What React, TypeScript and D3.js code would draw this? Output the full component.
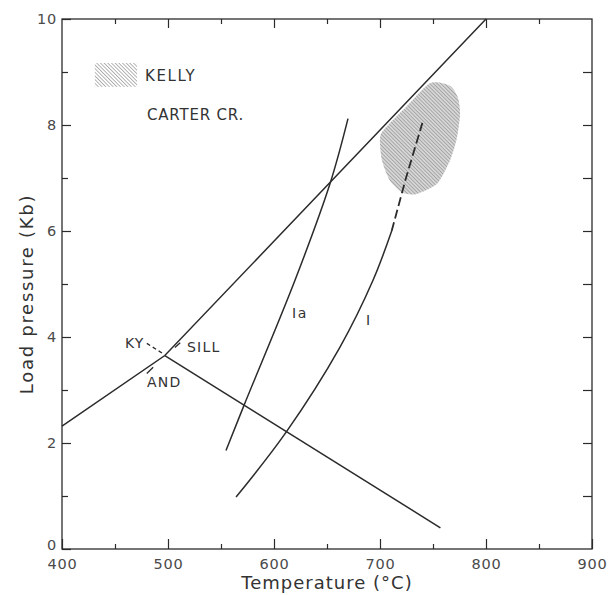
import React, { useEffect, useRef } from "react";
import * as d3 from "d3";

const WIDTH = 613;
const HEIGHT = 595;

// axis ticks
const TEMP_TICKS = [400, 500, 600, 700, 800, 900];
const TEMP_MINOR = [450, 550, 650, 750, 850];
const PRESSURE_TICKS = [0, 2, 4, 6, 8, 10];
const PRESSURE_ALL = [1, 2, 3, 4, 5, 6, 7, 8, 9];
const PRESSURE_MINOR = [1, 3, 5, 7, 9];

// Al2SiO5 boundaries (Ky-And, Ky-Sill), through the triple point
const mainT = [400, 497, 800];
const mainP = [2.32, 3.65, 10];
// And-Sill
const andSillT = [497, 757];
const andSillP = [3.65, 0.4];
// metastable Ky extension (dashed)
const kyDashT = [480, 495];
const kyDashP = [3.88, 3.69];
// little field marks
const sillMarkT = [506.5, 511.5];
const sillMarkP = [3.8, 3.89];
const andMarkT = [480, 486];
const andMarkP = [3.31, 3.43];

// curve Ia
const curveIaT = [554.7, 571.7, 619.8, 652.8, 669.8];
const curveIaP = [1.86, 2.71, 5.07, 6.89, 8.12];
// curve I (solid, then dashed)
const curveIT = [564.2, 611.3, 662, 693.4, 711];
const curveIP = [0.98, 2.2, 3.8, 5.07, 6.0];
const curveIDashT = [711, 724.5, 740];
const curveIDashP = [6.0, 7.0, 8.04];

// Kelly field
const kellyT = [747.2, 766, 773.6, 775.5, 772.6, 766, 753.8, 734.9, 721.7, 709.4, 701.9, 700, 702.8, 725];
const kellyP = [8.79, 8.74, 8.51, 8.21, 7.76, 7.33, 6.89, 6.7, 6.72, 6.95, 7.33, 7.7, 7.89, 8.35];

const zip = (ts: number[], ps: number[]) => ts.map((t, i) => ({ t, p: ps[i] }));

const App = () => {
  const ref = useRef<HTMLDivElement>(null);

  useEffect(() => {
    const root = d3.select(ref.current);
    root.selectAll("*").remove();

    const svg = root
      .append("svg")
      .attr("width", WIDTH)
      .attr("height", HEIGHT)
      .style("position", "absolute")
      .style("left", 0)
      .style("top", 0)
      .style("background", "#fff");

    const x = d3.scaleLinear().domain([400, 900]).range([62, 592]);
    const y = d3.scaleLinear().domain([0, 10]).range([549, 19]);

    const ink = "#2b2b2b";
    const font = "'DejaVu Sans', sans-serif";

    // hatch pattern
    const defs = svg.append("defs");
    const pat = defs
      .append("pattern")
      .attr("id", "hatch")
      .attr("patternUnits", "userSpaceOnUse")
      .attr("width", 2.6)
      .attr("height", 2.6)
      .attr("patternTransform", "rotate(-45)");
    pat.append("line").attr("x1", 0).attr("y1", 0).attr("x2", 0).attr("y2", 2.6)
      .attr("stroke", "#6a6a6a").attr("stroke-width", 1);

    // frame
    svg.append("rect")
      .attr("x", x(400)).attr("y", y(10))
      .attr("width", x(900) - x(400)).attr("height", y(0) - y(10))
      .attr("fill", "none").attr("stroke", ink).attr("stroke-width", 1.3);

    const styleAxis = (g: any) => {
      g.select(".domain").remove();
      g.selectAll(".tick line").attr("stroke", ink).attr("stroke-width", 1.2);
      g.selectAll(".tick text")
        .attr("fill", "#4a4a4a")
        .attr("font-family", font)
        .attr("font-size", 14.5)
        .attr("letter-spacing", 0.8);
    };

    // bottom
    svg.append("g").attr("transform", `translate(0,${y(0)})`)
      .call(d3.axisBottom(x).tickValues(TEMP_TICKS).tickSize(-10).tickPadding(10).tickFormat(d3.format("d")))
      .call(styleAxis);
    svg.append("g").attr("transform", `translate(0,${y(0)})`)
      .call(d3.axisBottom(x).tickValues(TEMP_MINOR).tickSize(-5).tickFormat(() => ""))
      .call(styleAxis);
    // top
    svg.append("g").attr("transform", `translate(0,${y(10)})`)
      .call(d3.axisTop(x).tickValues(TEMP_TICKS.slice(1, -1)).tickSize(-9).tickFormat(() => ""))
      .call(styleAxis);
    svg.append("g").attr("transform", `translate(0,${y(10)})`)
      .call(d3.axisTop(x).tickValues(TEMP_MINOR).tickSize(-5).tickFormat(() => ""))
      .call(styleAxis);
    // left
    const left = svg.append("g").attr("transform", `translate(${x(400)},0)`)
      .call(d3.axisLeft(y).tickValues(PRESSURE_TICKS).tickSize(-9).tickPadding(5).tickFormat(d3.format("d")))
      .call(styleAxis);
    // the "0" sits a little above the corner, clear of "400"
    left.selectAll(".tick text").filter((d: any) => d === 0).attr("dy", "0.05em");
    svg.append("g").attr("transform", `translate(${x(400)},0)`)
      .call(d3.axisLeft(y).tickValues(PRESSURE_MINOR).tickSize(-6).tickFormat(() => ""))
      .call(styleAxis);
    // right
    svg.append("g").attr("transform", `translate(${x(900)},0)`)
      .call(d3.axisRight(y).tickValues(PRESSURE_ALL).tickSize(-9).tickFormat(() => ""))
      .call(styleAxis);

    // axis titles
    svg.append("text")
      .attr("x", (x(400) + x(900)) / 2).attr("y", 589)
      .attr("text-anchor", "middle")
      .attr("font-family", font).attr("font-size", 18).attr("letter-spacing", 1)
      .attr("fill", "#333")
      .text("Temperature (°C)");
    svg.append("text")
      .attr("transform", `translate(33,${(y(0) + y(10)) / 2 + 10}) rotate(-90)`)
      .attr("text-anchor", "middle")
      .attr("font-family", font).attr("font-size", 18).attr("letter-spacing", 1.7)
      .attr("fill", "#333")
      .text("Load pressure (Kb)");

    // Kelly field
    const area = d3.line<{ t: number; p: number }>()
      .x((d) => x(d.t)).y((d) => y(d.p))
      .curve(d3.curveCardinalClosed.tension(0.3));
    const kelly = zip(kellyT, kellyP);
    svg.append("path").attr("d", area(kelly)).attr("fill", "#d6d6d6");
    svg.append("path").attr("d", area(kelly)).attr("fill", "url(#hatch)").attr("opacity", 0.85);

    const line = d3.line<{ t: number; p: number }>()
      .x((d) => x(d.t)).y((d) => y(d.p));
    const smooth = d3.line<{ t: number; p: number }>()
      .x((d) => x(d.t)).y((d) => y(d.p))
      .curve(d3.curveCatmullRom);

    const draw = (d: string | null, dash?: string, w = 1.5) => {
      svg.append("path").attr("d", d).attr("fill", "none")
        .attr("stroke", ink).attr("stroke-width", w)
        .attr("stroke-dasharray", dash || null);
    };

    draw(line(zip(mainT, mainP)));
    draw(line(zip(andSillT, andSillP)));
    draw(line(zip(kyDashT, kyDashP)), "4,3", 1.3);
    draw(line(zip(sillMarkT, sillMarkP)), undefined, 1.3);
    draw(line(zip(andMarkT, andMarkP)), undefined, 1.3);
    draw(smooth(zip(curveIaT, curveIaP)));
    draw(smooth(zip(curveIT, curveIP)));
    draw(line(zip(curveIDashT, curveIDashP)), "9,4", 1.8);

    // legend
    svg.append("rect")
      .attr("x", x(431)).attr("y", y(9.17))
      .attr("width", x(470.8) - x(431)).attr("height", y(8.72) - y(9.17))
      .attr("fill", "url(#hatch)");

    const label = (txt: string, t: number, p: number, size = 14, ls = 1.2) => {
      svg.append("text")
        .attr("x", x(t)).attr("y", y(p))
        .attr("font-family", font).attr("font-size", size)
        .attr("letter-spacing", ls).attr("fill", "#333")
        .text(txt);
    };
    label("KELLY", 478.3, 8.83, 15, 1.6);
    label("CARTER CR.", 480.2, 8.09, 15, 0.8);
    label("KY", 459.4, 3.79);
    label("SILL", 517.9, 3.72);
    label("AND", 480.2, 3.06);
    label("Ia", 617, 4.36, 14, 1.5);
    label("I", 686.8, 4.23);
  }, []);

  return <div ref={ref}></div>;
};

export default App;
